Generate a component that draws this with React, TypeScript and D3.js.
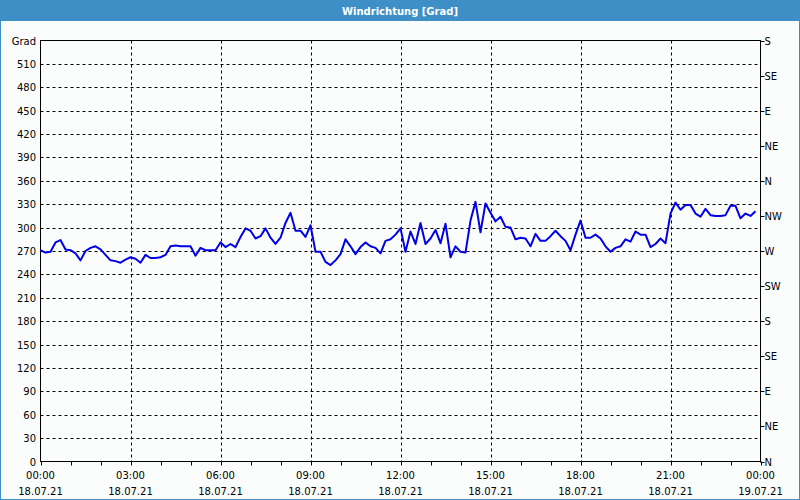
import React from "react";
import * as d3 from "d3";

const TITLE = "Windrichtung [Grad]";
const Y_UNIT = "Grad";
const yTicks = [0, 30, 60, 90, 120, 150, 180, 210, 240, 270, 300, 330, 360, 390, 420, 450, 480, 510];
const compassTicks = [0, 45, 90, 135, 180, 225, 270, 315, 360, 405, 450, 495, 540];
const compassLabels = ["N", "NE", "E", "SE", "S", "SW", "W", "NW", "N", "NE", "E", "SE", "S"];
const xTickHours = [0, 3, 6, 9, 12, 15, 18, 21, 24];
const xTimeLabels = ["00:00", "03:00", "06:00", "09:00", "12:00", "15:00", "18:00", "21:00", "00:00"];
const xDateLabels = ["18.07.21", "18.07.21", "18.07.21", "18.07.21", "18.07.21", "18.07.21", "18.07.21", "18.07.21", "19.07.21"];
const INTERVAL_MIN = 10;

// wind direction readings (degrees), every 10 minutes from 18.07.21 00:00
const directions = [
  271, 268, 269, 281, 284, 272, 271, 267, 258, 270,
  274, 276, 272, 265, 258, 257, 255, 259, 262, 260,
  255, 265, 261, 261, 262, 265, 276, 277, 276, 276,
  276, 264, 274, 271, 271, 271, 281, 275, 279, 275,
  288, 299, 296, 286, 289, 299, 287, 279, 287, 306,
  319, 296, 296, 288, 303, 269, 269, 256, 252, 258,
  266, 285, 276, 266, 275, 281, 276, 274, 267, 283,
  285, 291, 299, 269, 295, 279, 306, 279, 286, 297,
  280, 305, 262, 276, 269, 268, 309, 333, 294, 331,
  319, 308, 314, 301, 300, 285, 287, 286, 276, 292,
  283, 283, 289, 296, 289, 283, 271, 291, 309, 287,
  287, 291, 286, 276, 269, 274, 276, 285, 282, 295,
  291, 291, 275, 279, 286, 280, 318, 332, 323, 329,
  329, 318, 314, 324, 316, 315, 315, 316, 328, 328,
  312, 318, 315, 321,
];

const W = 800;
const H = 500;
const L = 40.5;
const R = 760.5;
const T = 40.5;
const B = 461.5;
const FONT = "'DejaVu Sans', Tahoma, sans-serif";
const BLUE = "#3d8fc6";

export default function App() {
  const x = d3.scaleLinear().domain([0, 24 * 60]).range([L, R]);
  const y = d3.scaleLinear().domain([0, 540]).range([B, T]);
  const pts: [number, number][] = directions.map((v, i) => [i * INTERVAL_MIN, v]);
  const line = d3
    .line<[number, number]>()
    .x((d) => x(d[0]))
    .y((d) => y(d[1]));
  const hours = d3.range(0, 25);

  return (
    <svg
      width={W}
      height={H}
      style={{ position: "fixed", left: 0, top: 0, display: "block" }}
      fontFamily={FONT}
    >
      <rect x={0} y={0} width={W} height={H} fill="#fbfdfc" />
      <rect x={0} y={0} width={W} height={21} fill={BLUE} />
      <text x={W / 2} y={15} textAnchor="middle" fill="#ffffff" fontWeight="bold" fontSize={10}>
        {TITLE}
      </text>
      <line x1={0.5} y1={21} x2={0.5} y2={H} stroke={BLUE} />
      <line x1={W - 0.5} y1={21} x2={W - 0.5} y2={H} stroke={BLUE} />
      <line x1={0} y1={H - 0.5} x2={W} y2={H - 0.5} stroke={BLUE} />

      {/* horizontal grid */}
      {yTicks.filter((t) => t > 0).map((t) => (
        <line
          key={"hg" + t}
          x1={L}
          x2={R}
          y1={Math.round(y(t)) + 0.5}
          y2={Math.round(y(t)) + 0.5}
          stroke="#000"
          strokeDasharray="3,3"
        />
      ))}
      {/* vertical grid */}
      {xTickHours.filter((h) => h > 0 && h < 24).map((h) => (
        <line
          key={"vg" + h}
          x1={Math.round(x(h * 60)) + 0.5}
          x2={Math.round(x(h * 60)) + 0.5}
          y1={T}
          y2={B}
          stroke="#000"
          strokeDasharray="3,3"
        />
      ))}

      {/* frame */}
      <rect x={L} y={T} width={R - L} height={B - T} fill="none" stroke="#000" />

      {/* bottom ticks */}
      {hours.map((h) => (
        <line
          key={"bt" + h}
          x1={Math.round(x(h * 60)) + 0.5}
          x2={Math.round(x(h * 60)) + 0.5}
          y1={B}
          y2={B + 4}
          stroke="#000"
        />
      ))}
      {/* right ticks */}
      {compassTicks.map((t) => (
        <line
          key={"rt" + t}
          x1={R}
          x2={R + 4}
          y1={Math.round(y(t)) + 0.5}
          y2={Math.round(y(t)) + 0.5}
          stroke="#000"
        />
      ))}

      {/* data line */}
      <path d={line(pts) || ""} fill="none" stroke="#0000e6" strokeWidth={2} strokeLinejoin="round" />

      {/* left labels */}
      <g fontSize={10} fill="#000" textAnchor="end">
        <text x={36} y={y(540) + 4}>
          {Y_UNIT}
        </text>
        {yTicks.map((t) => (
          <text key={"yl" + t} x={36} y={y(t) + 4}>
            {t}
          </text>
        ))}
      </g>
      {/* right labels */}
      <g fontSize={10} fill="#000" textAnchor="start">
        {compassTicks.map((t, i) => (
          <text key={"cl" + t} x={R + 4} y={y(t) + 4}>
            {compassLabels[i]}
          </text>
        ))}
      </g>
      {/* bottom labels */}
      <g fontSize={10} fill="#000" textAnchor="middle">
        {xTickHours.map((h, i) => (
          <g key={"xl" + h}>
            <text x={x(h * 60)} y={479}>
              {xTimeLabels[i]}
            </text>
            <text x={x(h * 60)} y={495}>
              {xDateLabels[i]}
            </text>
          </g>
        ))}
      </g>
    </svg>
  );
}
